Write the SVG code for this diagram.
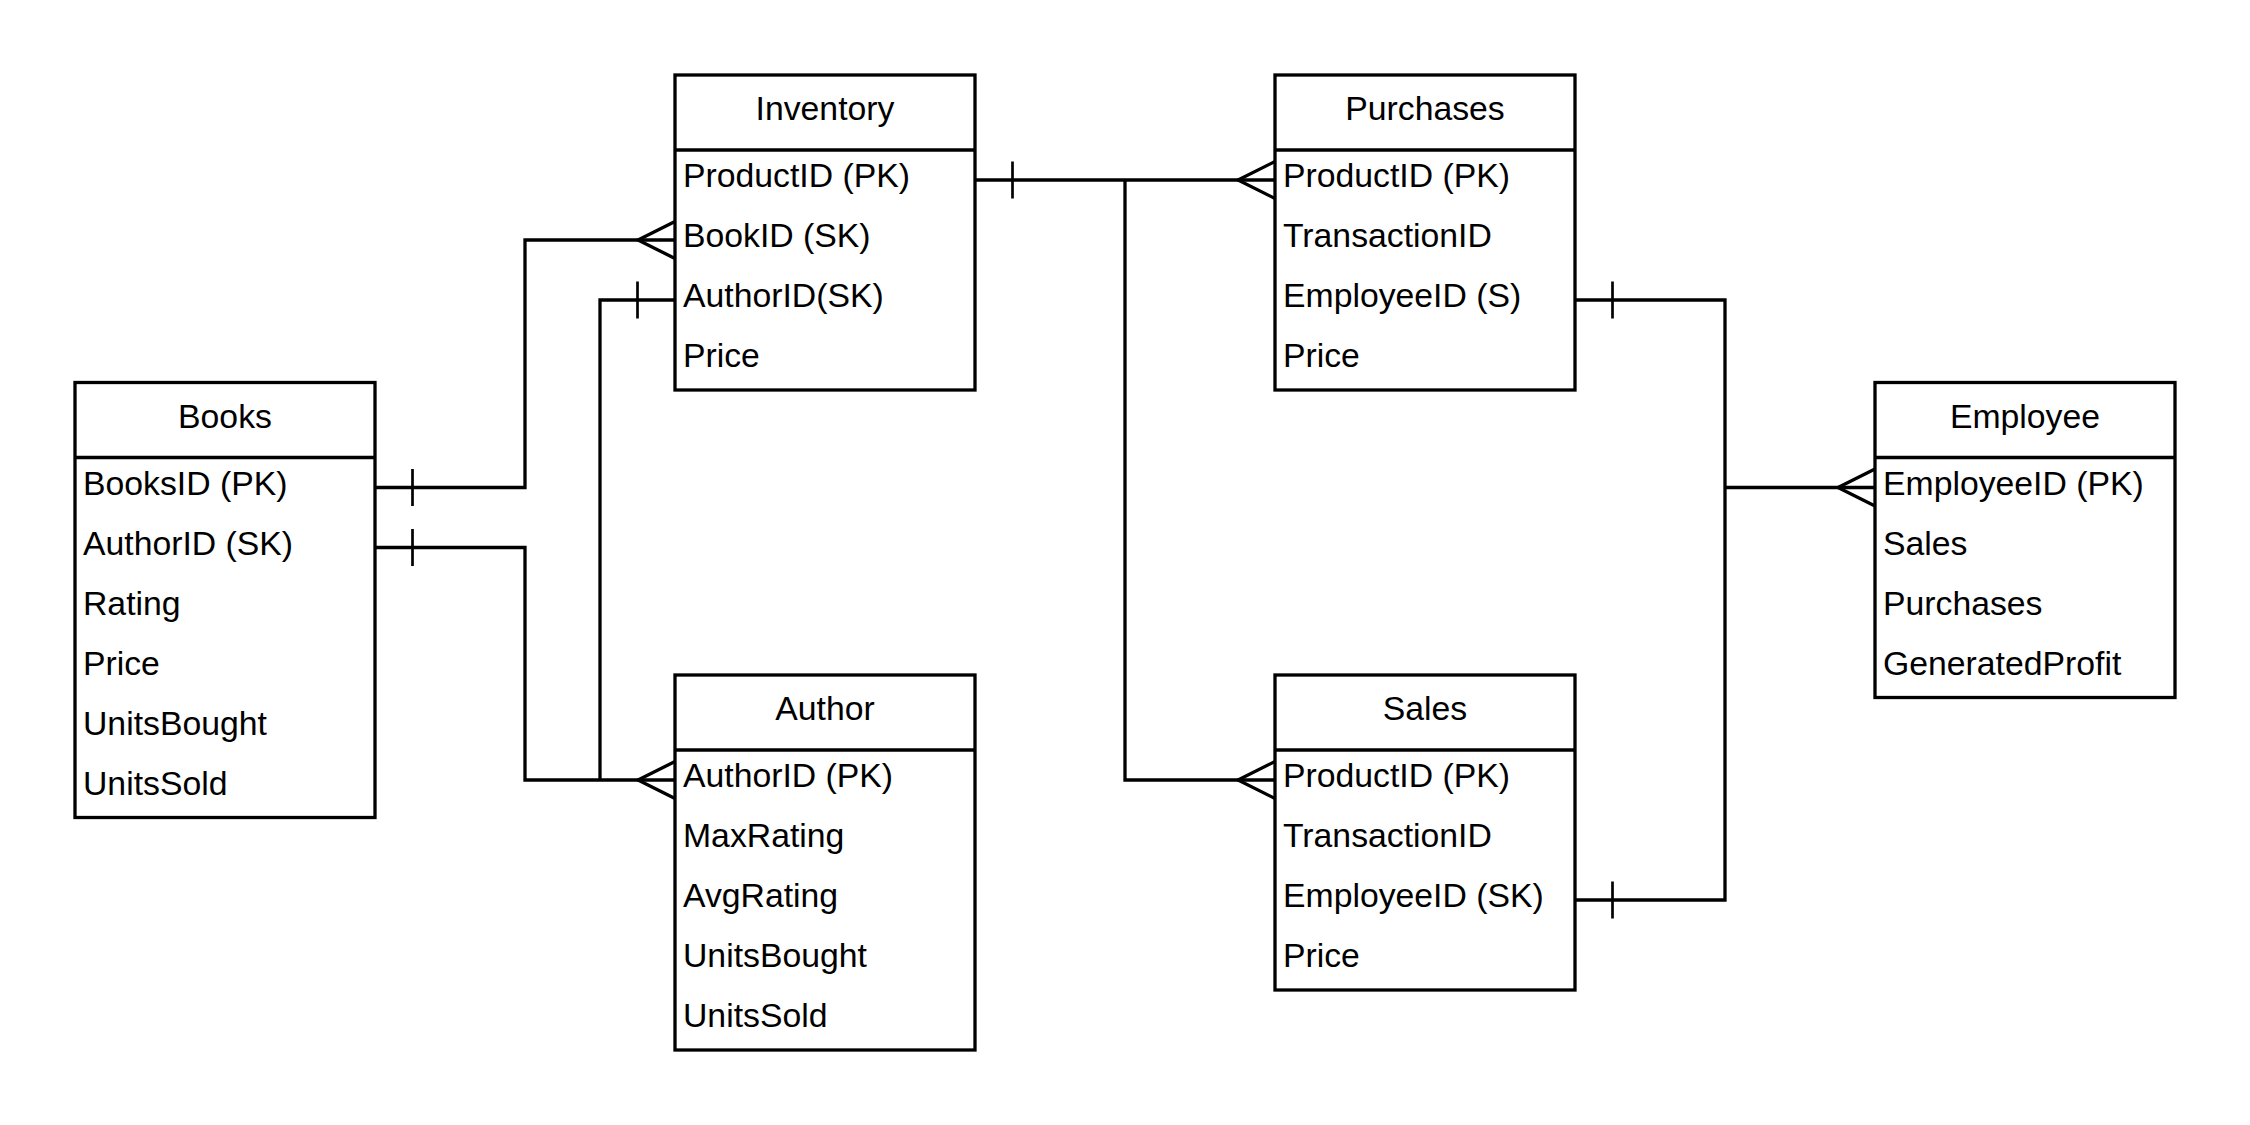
<svg xmlns="http://www.w3.org/2000/svg" width="2250" height="1125" viewBox="0 0 2250 1125">
<style>
.box{fill:#fff;stroke:#000;stroke-width:3.3}
.div{stroke:#000;stroke-width:3.3}
.t{font-family:"Liberation Sans",Arial,Helvetica,sans-serif;font-size:33.75px;fill:#000}
.h{text-anchor:middle}
.c{fill:none;stroke:#000;stroke-width:3.3}
.tick{stroke:#000;stroke-width:2.7}
</style>
<rect width="2250" height="1125" fill="#fff"/>
<g id="connectors">
<path class="c" d="M375,487.5 H525 V240 H675"/>
<path class="c" d="M375,547.5 H525 V780 H675"/>
<path class="c" d="M675,300 H600 V780"/>
<path class="c" d="M975,180 H1275"/>
<path class="c" d="M1125,180 V780 H1275"/>
<path class="c" d="M1575,300 H1725 V900 H1575"/>
<path class="c" d="M1725,487.5 H1875"/>
<line class="tick" x1="412.5" y1="469" x2="412.5" y2="506"/>
<line class="tick" x1="412.5" y1="529" x2="412.5" y2="566"/>
<line class="tick" x1="637.5" y1="281.5" x2="637.5" y2="318.5"/>
<line class="tick" x1="1012.5" y1="161.5" x2="1012.5" y2="198.5"/>
<line class="tick" x1="1612.5" y1="281.5" x2="1612.5" y2="318.5"/>
<line class="tick" x1="1612.5" y1="881.5" x2="1612.5" y2="918.5"/>
<path class="c" d="M675,221.5 L638,240 L675,258.5"/>
<path class="c" d="M675,761.5 L638,780 L675,798.5"/>
<path class="c" d="M1275,161.5 L1238,180 L1275,198.5"/>
<path class="c" d="M1275,761.5 L1238,780 L1275,798.5"/>
<path class="c" d="M1875,469 L1838,487.5 L1875,506"/>
</g>
<g id="inventory">
<rect class="box" x="675" y="75" width="300" height="315"/>
<line class="div" x1="675" y1="150" x2="975" y2="150"/>
<text class="t h" x="825" y="120">Inventory</text>
<text class="t" x="683" y="187">ProductID (PK)</text>
<text class="t" x="683" y="247">BookID (SK)</text>
<text class="t" x="683" y="307">AuthorID(SK)</text>
<text class="t" x="683" y="367">Price</text>
</g>
<g id="purchases">
<rect class="box" x="1275" y="75" width="300" height="315"/>
<line class="div" x1="1275" y1="150" x2="1575" y2="150"/>
<text class="t h" x="1425" y="120">Purchases</text>
<text class="t" x="1283" y="187">ProductID (PK)</text>
<text class="t" x="1283" y="247">TransactionID</text>
<text class="t" x="1283" y="307">EmployeeID (S)</text>
<text class="t" x="1283" y="367">Price</text>
</g>
<g id="books">
<rect class="box" x="75" y="382.5" width="300" height="435"/>
<line class="div" x1="75" y1="457.5" x2="375" y2="457.5"/>
<text class="t h" x="225" y="427.5">Books</text>
<text class="t" x="83" y="494.5">BooksID (PK)</text>
<text class="t" x="83" y="554.5">AuthorID (SK)</text>
<text class="t" x="83" y="614.5">Rating</text>
<text class="t" x="83" y="674.5">Price</text>
<text class="t" x="83" y="734.5">UnitsBought</text>
<text class="t" x="83" y="794.5">UnitsSold</text>
</g>
<g id="employee">
<rect class="box" x="1875" y="382.5" width="300" height="315"/>
<line class="div" x1="1875" y1="457.5" x2="2175" y2="457.5"/>
<text class="t h" x="2025" y="427.5">Employee</text>
<text class="t" x="1883" y="494.5">EmployeeID (PK)</text>
<text class="t" x="1883" y="554.5">Sales</text>
<text class="t" x="1883" y="614.5">Purchases</text>
<text class="t" x="1883" y="674.5">GeneratedProfit</text>
</g>
<g id="author">
<rect class="box" x="675" y="675" width="300" height="375"/>
<line class="div" x1="675" y1="750" x2="975" y2="750"/>
<text class="t h" x="825" y="720">Author</text>
<text class="t" x="683" y="787">AuthorID (PK)</text>
<text class="t" x="683" y="847">MaxRating</text>
<text class="t" x="683" y="907">AvgRating</text>
<text class="t" x="683" y="967">UnitsBought</text>
<text class="t" x="683" y="1027">UnitsSold</text>
</g>
<g id="sales">
<rect class="box" x="1275" y="675" width="300" height="315"/>
<line class="div" x1="1275" y1="750" x2="1575" y2="750"/>
<text class="t h" x="1425" y="720">Sales</text>
<text class="t" x="1283" y="787">ProductID (PK)</text>
<text class="t" x="1283" y="847">TransactionID</text>
<text class="t" x="1283" y="907">EmployeeID (SK)</text>
<text class="t" x="1283" y="967">Price</text>
</g>
</svg>
